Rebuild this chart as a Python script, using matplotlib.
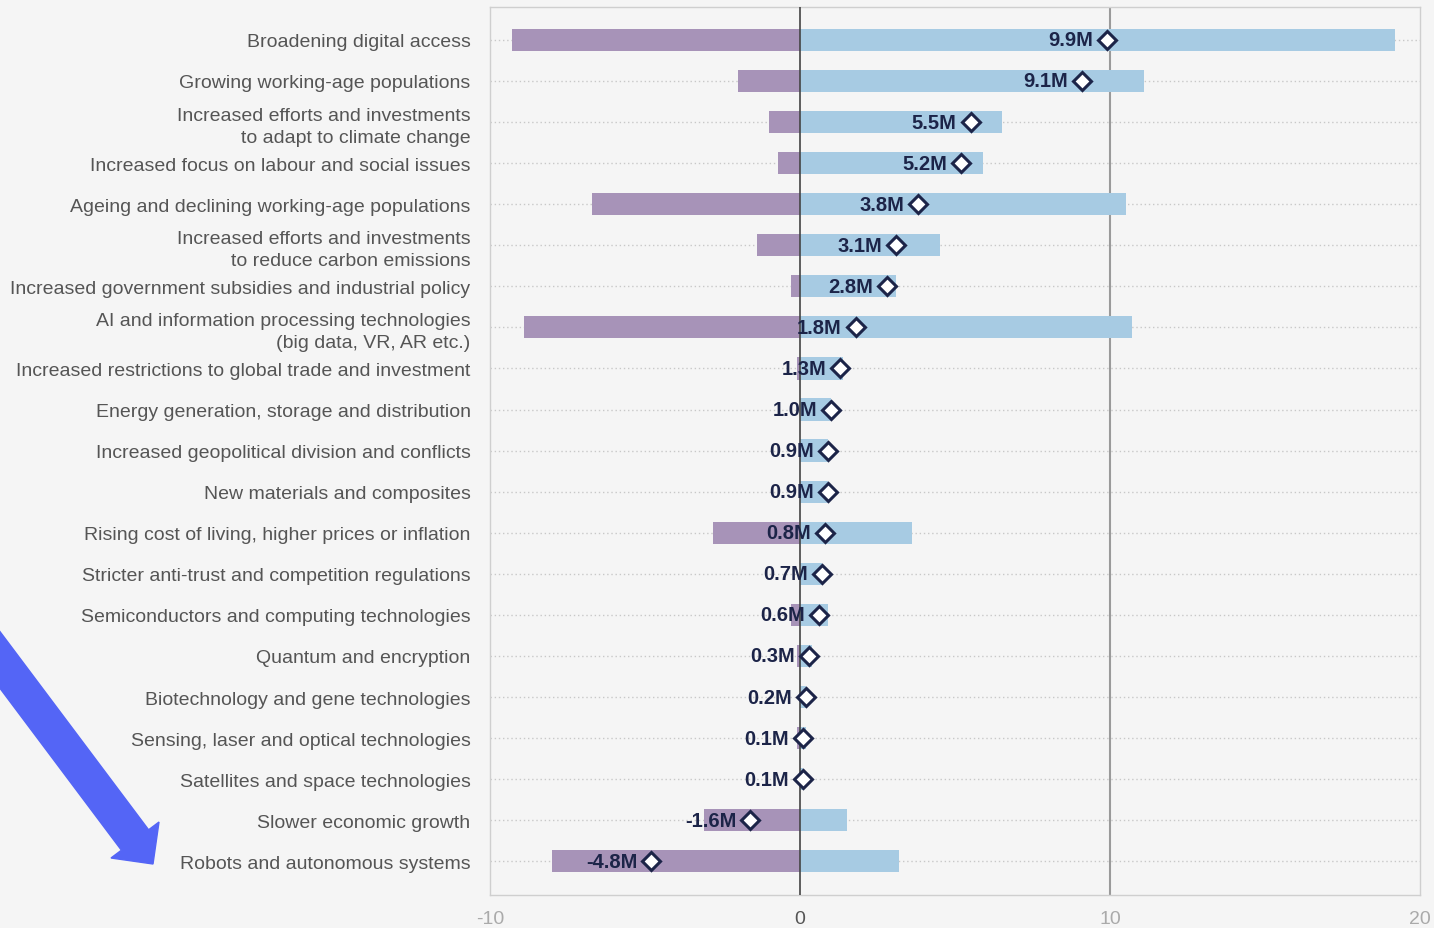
import matplotlib
matplotlib.use("Agg")
import matplotlib.pyplot as plt
import matplotlib.transforms as mtransforms
from matplotlib.patches import FancyArrow
import numpy as np

categories = [
    "Broadening digital access",
    "Growing working-age populations",
    "Increased efforts and investments\nto adapt to climate change",
    "Increased focus on labour and social issues",
    "Ageing and declining working-age populations",
    "Increased efforts and investments\nto reduce carbon emissions",
    "Increased government subsidies and industrial policy",
    "AI and information processing technologies\n(big data, VR, AR etc.)",
    "Increased restrictions to global trade and investment",
    "Energy generation, storage and distribution",
    "Increased geopolitical division and conflicts",
    "New materials and composites",
    "Rising cost of living, higher prices or inflation",
    "Stricter anti-trust and competition regulations",
    "Semiconductors and computing technologies",
    "Quantum and encryption",
    "Biotechnology and gene technologies",
    "Sensing, laser and optical technologies",
    "Satellites and space technologies",
    "Slower economic growth",
    "Robots and autonomous systems",
]
# jobs displaced (millions, negative) and created (millions)
displaced = [-9.3, -2.0, -1.0, -0.7, -6.7, -1.4, -0.3, -8.9, -0.1, 0.0, 0.0,
             0.0, -2.8, 0.0, -0.3, -0.1, 0.0, -0.1, 0.0, -3.1, -8.0]
created = [19.2, 11.1, 6.5, 5.9, 10.5, 4.5, 3.1, 10.7, 1.4, 1.0, 0.9,
           0.9, 3.6, 0.7, 0.9, 0.4, 0.2, 0.2, 0.1, 1.5, 3.2]
net = [9.9, 9.1, 5.5, 5.2, 3.8, 3.1, 2.8, 1.8, 1.3, 1.0, 0.9,
       0.9, 0.8, 0.7, 0.6, 0.3, 0.2, 0.1, 0.1, -1.6, -4.8]
x_ticks = [-10, 0, 10, 20]

purple = "#a793b8"
blue = "#a7cbe3"
navy = "#1c2448"
bg = "#f5f5f5"

plt.rcParams['font.family'] = ['Liberation Sans', 'DejaVu Sans']

fig = plt.figure(figsize=(14.34, 9.29), dpi=100, facecolor=bg)
ax = fig.add_axes([490 / 1434, 1 - 896 / 929, 930 / 1434, 888 / 929])
ax.set_facecolor(bg)

ind = np.arange(len(categories))
height = 0.54

# dotted row guides
for y in ind:
    ax.axhline(y, color="#c8c8c8", lw=1, linestyle=(0, (1, 2)), zorder=0)

ax.barh(ind, displaced, height, color=purple, zorder=2)
ax.barh(ind, created, height, color=blue, zorder=2)

ax.axvline(0, color="#444444", lw=1.2, zorder=3)
ax.axvline(10, color="#9a9a9a", lw=1.5, zorder=1)

ax.plot(net, ind, linestyle="none", marker="D", markersize=9.5,
        markerfacecolor="white", markeredgecolor=navy, markeredgewidth=2.2, zorder=5)
for y, v in zip(ind, net):
    ax.annotate(f"{v:.1f}M", (v, y), xytext=(-10, 0), textcoords="offset points",
                ha="right", va="center", fontsize=14.5, color=navy,
                fontweight="semibold", zorder=6)

ax.set_xlim(-10, 20)
ax.set_ylim(20.82, -0.8)
ax.set_xticks(x_ticks)
ax.set_xticklabels([str(t) for t in x_ticks])
for lbl, t in zip(ax.get_xticklabels(), x_ticks):
    lbl.set_color("#555555" if t == 0 else "#aaaaaa")
ax.set_yticks(ind)
ax.set_yticklabels(categories, fontsize=14, color="#555555", linespacing=1.35)
ax.tick_params(axis="y", length=0, pad=14)
ax.tick_params(axis="x", length=0, pad=11, labelsize=14)

for s in ax.spines.values():
    s.set_color("#cfcfcf")
    s.set_linewidth(1)

# blue callout arrow, drawn in image pixel coordinates
pix = mtransforms.Affine2D().scale(0.01, -0.01).translate(0, 9.29) + fig.dpi_scale_trans
x0, y0 = -30, 621
x1, y1 = 153, 865
dx, dy = x1 - x0, y1 - y0
arrow = FancyArrow(x0, y0, dx, dy, width=34, head_width=60, head_length=30,
                   length_includes_head=True, color="#5465f6", transform=pix,
                   clip_on=False)
fig.patches.append(arrow)

plt.savefig("out.png", dpi=100, facecolor=fig.get_facecolor())
plt.close()
